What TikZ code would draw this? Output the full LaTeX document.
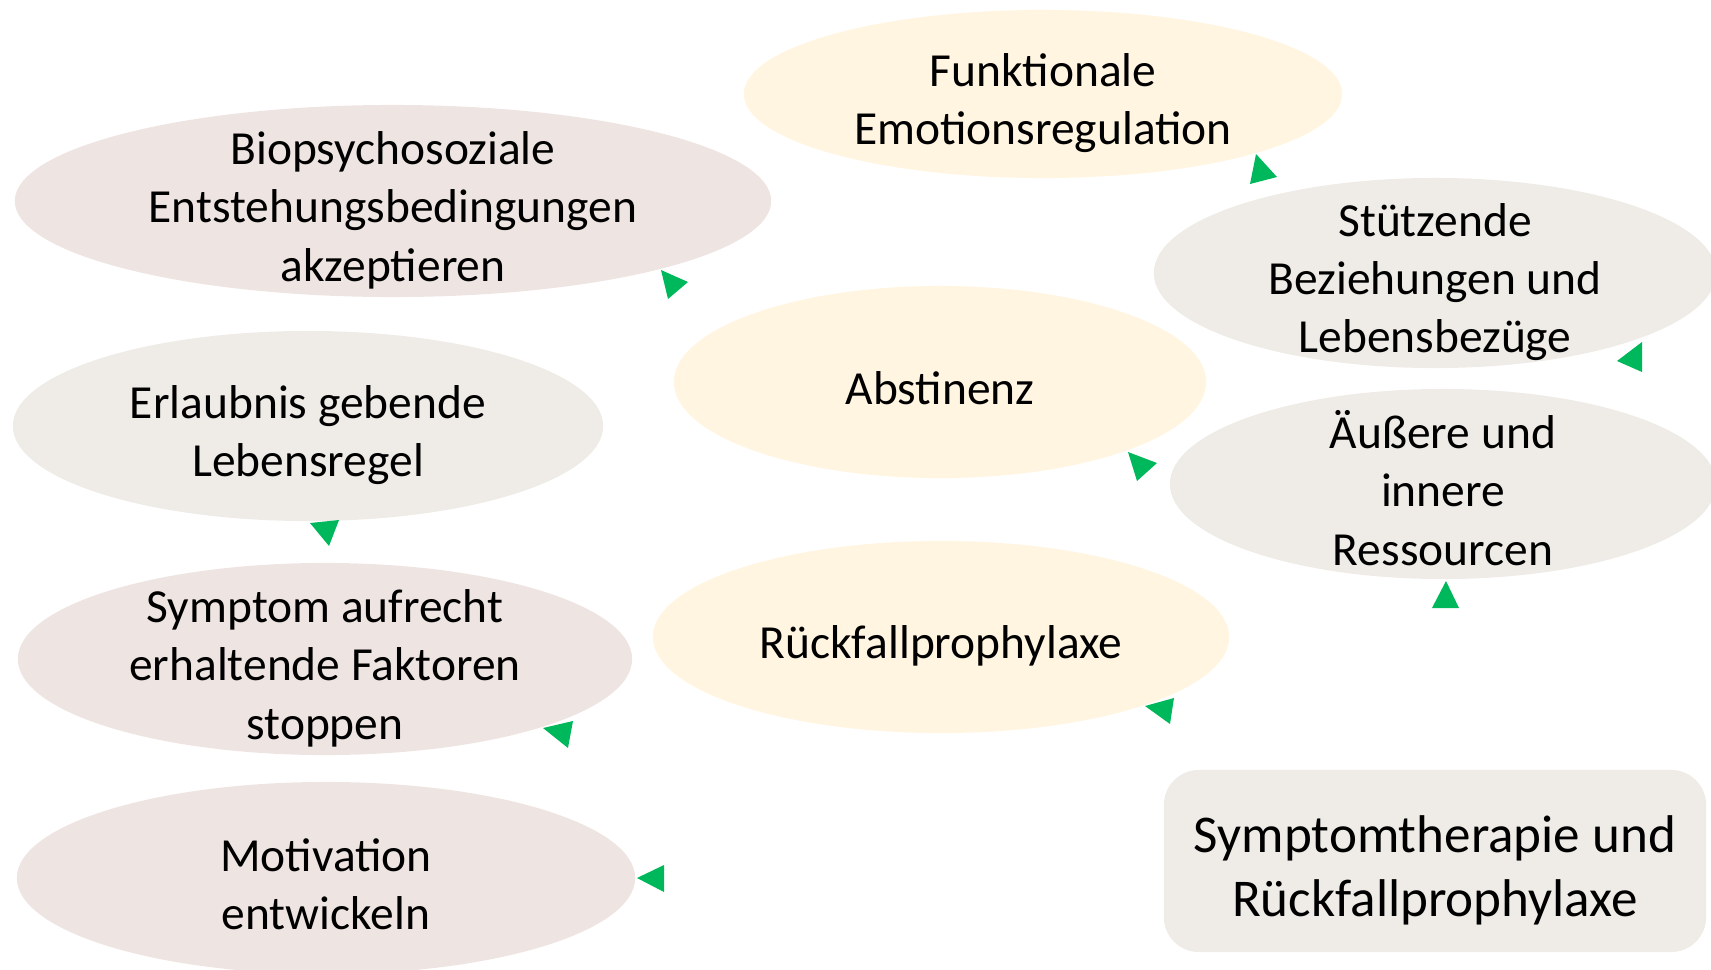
\documentclass[tikz,border=0pt]{standalone}
\usepackage{fontspec}
\setmainfont{Carlito}
\usetikzlibrary{shapes.geometric}
\definecolor{rose}{HTML}{EEE5E2}
\definecolor{stone}{HTML}{EFECE7}
\definecolor{cream}{HTML}{FFF5E1}
\definecolor{tipgreen}{HTML}{00B85C}
\tikzset{
  oval/.style={ellipse, inner sep=0pt},
  ovaltext/.style={align=center, yshift=-0.09cm, font=\fontsize{13.5}{16.6}\selectfont},
  tip/.style={fill=tipgreen},
}

\begin{document}
\begin{tikzpicture}[x=0.01cm, y=-0.01cm]
  \clip (0,0) rectangle (1711,969);

  % Ovale
  \node[oval, fill=cream, minimum width=5.98cm, minimum height=1.68cm,
        label={[ovaltext]center:Funktionale\\Emotionsregulation}] (funk) at (1043,94) {};
  \node[oval, fill=rose, minimum width=7.56cm, minimum height=1.92cm,
        label={[ovaltext]center:Biopsychosoziale\\Entstehungsbedingungen\\akzeptieren}] (bio) at (393,201) {};
  \node[oval, fill=stone, minimum width=5.62cm, minimum height=1.90cm,
        label={[ovaltext]center:Stützende\\Beziehungen und\\Lebensbezüge}] (stuetz) at (1435,273) {};
  \node[oval, fill=cream, minimum width=5.32cm, minimum height=1.92cm,
        label={[ovaltext, yshift=0.03cm]center:Abstinenz}] (abst) at (940,382) {};
  \node[oval, fill=stone, minimum width=5.90cm, minimum height=1.90cm,
        label={[ovaltext]center:Erlaubnis gebende\\Lebensregel}] (erl) at (308,426) {};
  \node[oval, fill=stone, minimum width=5.46cm, minimum height=1.90cm,
        label={[ovaltext, yshift=0.05cm]center:Äußere und\\innere\\Ressourcen}] (res) at (1443,484) {};
  \node[oval, fill=rose, minimum width=6.14cm, minimum height=1.92cm,
        label={[ovaltext]center:Symptom aufrecht\\erhaltende Faktoren\\stoppen}] (sympt) at (325,659) {};
  \node[oval, fill=cream, minimum width=5.76cm, minimum height=1.92cm,
        label={[ovaltext]center:Rückfallprophylaxe}] (rueck) at (941,637) {};
  \node[oval, fill=rose, minimum width=6.18cm, minimum height=1.92cm,
        label={[ovaltext, yshift=0.03cm]center:Motivation\\entwickeln}] (motiv) at (326,878) {};

  % Titel
  \node[fill=stone, rounded corners=0.35cm, minimum width=5.42cm, minimum height=1.82cm] (titel) at (1435,861) {};
  \node[align=center, font=\fontsize{15.1}{18.1}\selectfont] (titeltext) at ([yshift=-0.09cm]titel.center)
    {Symptomtherapie und\\Rückfallprophylaxe};

  % Pfeilspitzen
  \foreach \xa/\ya/\xb/\yb/\xc/\yc in {661/270/688/282/668/299, 1256/154/1277/177/1250/184,
      1642/342/1617/361/1642/372, 1128/452/1157/463/1137/481, 310/523/339/520/329/546,
      1446/581/1432/608/1459/608, 543/728/573/721/568/748, 1145/706/1174/698/1170/724,
      637/878/664/865/664/892} {
    \fill[tip] (\xa,\ya) -- (\xb,\yb) -- (\xc,\yc) -- cycle;
  }
\end{tikzpicture}
\end{document}
